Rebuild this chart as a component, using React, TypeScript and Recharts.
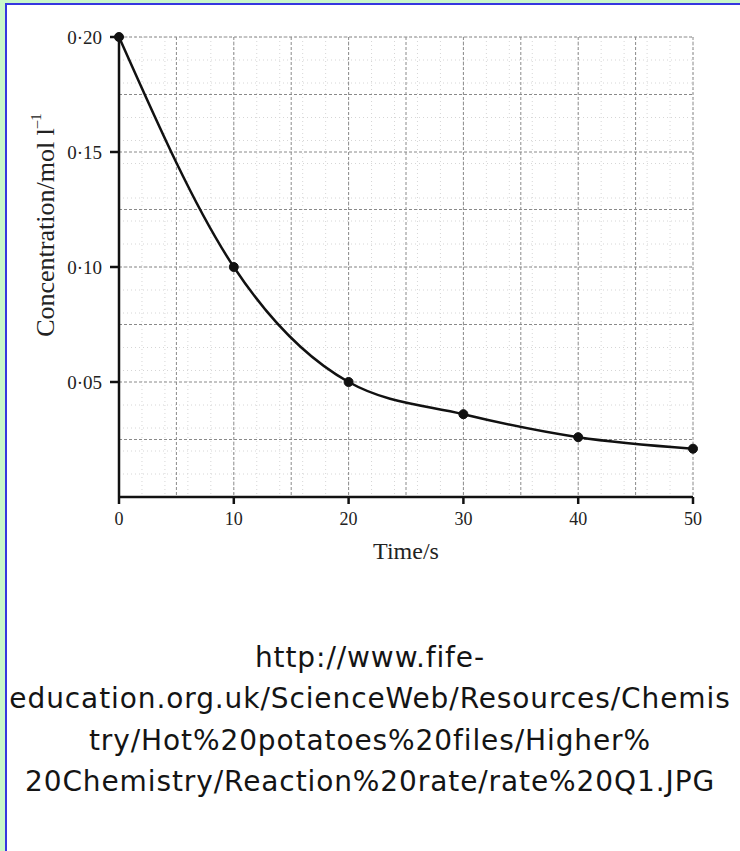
import React from "react";
import {
  LineChart,
  Line,
  XAxis,
  YAxis,
  CartesianGrid,
  Label,
} from "recharts";

// values
const times = [0, 10, 20, 30, 40, 50];
const concentration = [0.2, 0.1, 0.05, 0.036, 0.026, 0.021];

const xTicks = [0, 10, 20, 30, 40, 50];
const yTicks = [0.05, 0.1, 0.15, 0.2];

const urlLines = [
  "http://www.fife-",
  "education.org.uk/ScienceWeb/Resources/Chemis",
  "try/Hot%20potatoes%20files/Higher%",
  "20Chemistry/Reaction%20rate/rate%20Q1.JPG",
];

// graph paper lines
const majorX = [5, 10, 15, 20, 25, 30, 35, 40, 45, 50];
const majorY = [0.025, 0.05, 0.075, 0.1, 0.125, 0.15, 0.175, 0.2];
const minorX = Array.from({ length: 50 }, (_, i) => i + 1);
const minorY = Array.from({ length: 40 }, (_, i) => (i + 1) * 0.005);

const data = times.map((t, i) => ({ t, c: concentration[i] }));

const serif = "'Liberation Serif', 'DejaVu Serif', serif";

const fmtY = (v: number) => v.toFixed(2).replace(".", "·");

const YLabel = () => (
  <text
    x={45}
    y={225}
    dominantBaseline="central"
    transform="rotate(-90 45 225)"
    textAnchor="middle"
    fontFamily={serif}
    fontSize={26}
    fill="#222"
  >
    Concentration/mol l
    <tspan fontSize={15} dy={-9}>
      –1
    </tspan>
  </text>
);

export default function App() {
  return (
    <div
      style={{
        position: "absolute",
        left: 0,
        top: 0,
        width: 740,
        height: 851,
        background: "#c9f7c9",
        overflow: "hidden",
      }}
    >
      <div
        style={{
          position: "absolute",
          left: 5,
          top: 3,
          width: 735,
          height: 848,
          background: "#fff",
          borderLeft: "2px solid #3636e0",
          borderTop: "2px solid #3636e0",
        }}
      />
      <div style={{ position: "absolute", left: 0, top: 0 }}>
        <LineChart
          width={740}
          height={600}
          data={data}
          margin={{ top: 37, right: 47, left: 0, bottom: 43 }}
        >
          <CartesianGrid
            verticalValues={minorX}
            horizontalValues={minorY}
            stroke="#d6d6d6"
            strokeDasharray="1 3"
          />
          <CartesianGrid
            verticalValues={majorX}
            horizontalValues={majorY}
            stroke="#8a8a8a"
            strokeDasharray="3 2"
          />
          <XAxis
            dataKey="t"
            type="number"
            domain={[0, 50]}
            ticks={xTicks}
            height={60}
            tickSize={7}
            tickMargin={8}
            stroke="#111"
            strokeWidth={2.5}
            tick={{ fontFamily: serif, fontSize: 18, fill: "#222" }}
          >
            <Label
              value="Time/s"
              position="insideTop"
              offset={45}
              style={{ fontFamily: serif, fontSize: 24, fill: "#222" }}
            />
          </XAxis>
          <YAxis
            type="number"
            domain={[0, 0.2]}
            ticks={yTicks}
            width={119}
            tickSize={9}
            tickMargin={8}
            stroke="#111"
            strokeWidth={2.5}
            tickFormatter={fmtY}
            tick={{ fontFamily: serif, fontSize: 19, fill: "#222" }}
            label={{ content: YLabel }}
          />
          <Line
            dataKey="c"
            type="monotone"
            stroke="#111"
            strokeWidth={2.5}
            dot={{ r: 4.5, fill: "#111", stroke: "#111", strokeWidth: 1 }}
            isAnimationActive={false}
          />
        </LineChart>
      </div>
      <div
        style={{
          position: "absolute",
          left: 0,
          top: 637,
          width: 740,
          textAlign: "center",
          fontFamily: "'DejaVu Sans', sans-serif",
          fontSize: 28,
          letterSpacing: 0.9,
          lineHeight: "41.3px",
          color: "#141414",
        }}
      >
        {urlLines.map((l) => (
          <div key={l}>{l}</div>
        ))}
      </div>
    </div>
  );
}
